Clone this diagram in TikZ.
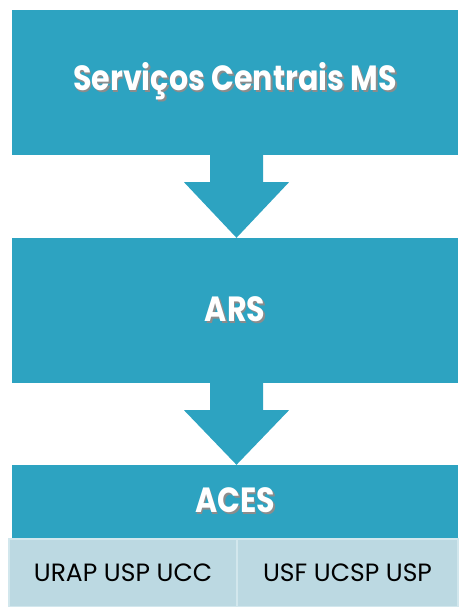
\documentclass[tikz,border=0pt]{standalone}
\usepackage{fontspec}
\setmainfont{Poppins}
\newfontfamily\gothic[FakeStretch=0.86]{Poppins}
\usepackage{tikz}
\usetikzlibrary{calc}
\definecolor{msblue}{HTML}{2DA3C1}
\definecolor{celfill}{HTML}{BCD9E2}
\definecolor{celline}{HTML}{D2E7ED}
\newcommand\shadowtxt[1]{\leavevmode\rlap{\hspace{1.8pt}\raisebox{-1.8pt}{\color{black!45}#1}}#1}
\tikzset{
  level/.style={fill=msblue, inner sep=0pt, minimum width=446pt, text=white,
    font=\gothic\bfseries\fontsize{35}{40}\selectfont},
  cell/.style={fill=celfill, draw=celline, line width=1.2pt, inner sep=0pt,
    minimum height=68pt, font=\fontsize{25}{28}\selectfont},
}
\begin{document}
\begin{tikzpicture}[x=1pt, y=-1pt]
    \useasboundingbox (0,0) rectangle (458,607);
    \node[level, minimum height=145pt](sc) at (235, 82.5) {\shadowtxt{Serviços Centrais MS}};
    \node[level, minimum height=145pt](ars) at (235, 310.5) {\shadowtxt{ARS}};
    \node[level, minimum height=73pt](aces) at (235, 501.5) {\shadowtxt{ACES}};
    \node[cell, minimum width=228pt](urap) at (123, 573) {URAP USP UCC};
    \node[cell, minimum width=221pt](usf) at (347.5, 573) {USF UCSP USP};

    \foreach \a/\b in {sc/ars, ars/aces}
      \fill[msblue] ($(\a.south)+(-25,0)$) -- ++(0,27) -- ++(-26,0)
        -- ($(\b.north)+(1.5,0)$) -- ($(\a.south)+(54,27)$) -- ++(-26,0)
        -- ($(\a.south)+(28,0)$) -- cycle;
  \end{tikzpicture}
\end{document}
